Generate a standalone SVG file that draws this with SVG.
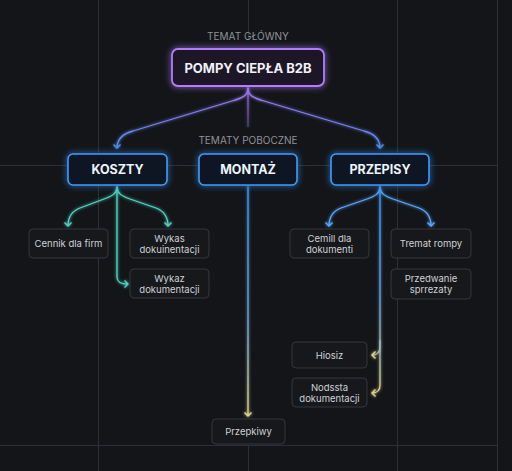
<svg xmlns="http://www.w3.org/2000/svg" width="512" height="471" viewBox="0 0 512 471">
<defs>
<style>
.grid{stroke:#2c2f34;stroke-width:1;fill:none}
.lbl{font-family:Inter,"Liberation Sans",sans-serif;font-size:10px;fill:#8f9297;text-anchor:middle}
.t1{font-family:Inter,"Liberation Sans",sans-serif;font-size:13px;font-weight:700;fill:#f2f0f8;text-anchor:middle}
.t2{font-family:Inter,"Liberation Sans",sans-serif;font-size:12.5px;font-weight:700;fill:#eef4fb;text-anchor:middle}
.t3{font-family:Inter,"Liberation Sans",sans-serif;font-size:9.5px;fill:#cfd1d4;text-anchor:middle}
.leaf{fill:#16181b;stroke:#34373c;stroke-width:1}
.mid{fill:#0f1824;stroke:#3d9bff;stroke-width:1.6}
.c{fill:none;stroke-width:1.3}
</style>
<filter id="glow" x="-30%" y="-50%" width="160%" height="200%">
<feGaussianBlur in="SourceGraphic" stdDeviation="3" result="b"/>
<feMerge><feMergeNode in="b"/><feMergeNode in="SourceGraphic"/></feMerge>
</filter>
<filter id="lglow" x="-50%" y="-10%" width="200%" height="120%">
<feGaussianBlur in="SourceGraphic" stdDeviation="1.5" result="b"/>
<feMerge><feMergeNode in="b"/><feMergeNode in="SourceGraphic"/></feMerge>
</filter>
<linearGradient id="gpb" x1="0" y1="86" x2="0" y2="150" gradientUnits="userSpaceOnUse">
<stop offset="0" stop-color="#a874f0"/><stop offset="1" stop-color="#4f8df5"/>
</linearGradient>
<linearGradient id="gpm" x1="0" y1="86" x2="0" y2="128" gradientUnits="userSpaceOnUse">
<stop offset="0" stop-color="#a874f0"/><stop offset="1" stop-color="#7a64c0" stop-opacity="0.5"/>
</linearGradient>
<linearGradient id="gmon" x1="0" y1="186" x2="0" y2="418" gradientUnits="userSpaceOnUse">
<stop offset="0" stop-color="#3d9bff"/><stop offset="0.55" stop-color="#6aa6e0"/><stop offset="1" stop-color="#e8dc8a"/>
</linearGradient>
<linearGradient id="gpr" x1="0" y1="186" x2="0" y2="395" gradientUnits="userSpaceOnUse">
<stop offset="0" stop-color="#3d9bff"/><stop offset="0.55" stop-color="#6aa6e0"/><stop offset="1" stop-color="#e0d28a"/>
</linearGradient>
<marker id="aB" markerWidth="10" markerHeight="10" refX="0" refY="0" viewBox="-5 -5 10 10" orient="auto" markerUnits="userSpaceOnUse">
<path d="M-3.5,-3.5 L0,0 L-3.5,3.5" fill="none" stroke="#4f8df5" stroke-width="1.3"/>
</marker>
<marker id="aT" markerWidth="10" markerHeight="10" refX="0" refY="0" viewBox="-5 -5 10 10" orient="auto" markerUnits="userSpaceOnUse">
<path d="M-3.5,-3.5 L0,0 L-3.5,3.5" fill="none" stroke="#4fd6c4" stroke-width="1.3"/>
</marker>
<marker id="aL" markerWidth="10" markerHeight="10" refX="0" refY="0" viewBox="-5 -5 10 10" orient="auto" markerUnits="userSpaceOnUse">
<path d="M-3.5,-3.5 L0,0 L-3.5,3.5" fill="none" stroke="#5aa8ff" stroke-width="1.3"/>
</marker>
<marker id="aY" markerWidth="10" markerHeight="10" refX="0" refY="0" viewBox="-5 -5 10 10" orient="auto" markerUnits="userSpaceOnUse">
<path d="M-3.5,-3.5 L0,0 L-3.5,3.5" fill="none" stroke="#e6da8c" stroke-width="1.3"/>
</marker>
</defs>
<rect width="512" height="471" fill="#131518"/>
<g id="grid">
<line class="grid" x1="98.5" y1="0" x2="98.5" y2="471"/>
<line class="grid" x1="248.5" y1="0" x2="248.5" y2="40"/>
<line class="grid" x1="248.5" y1="445" x2="248.5" y2="471"/>
<line class="grid" x1="397.5" y1="0" x2="397.5" y2="471"/>
<line class="grid" x1="497.5" y1="0" x2="497.5" y2="471" stroke="#3a3d42"/>
<line class="grid" x1="0" y1="165.5" x2="497" y2="165.5"/>
<line class="grid" x1="0" y1="445.5" x2="497" y2="445.5"/>
</g>
<text class="lbl" x="248" y="40">TEMAT GŁÓWNY</text>
<text class="lbl" x="248" y="144">TEMATY POBOCZNE</text>
<g id="connectors" filter="url(#lglow)">
<path class="c" stroke="url(#gpb)" d="M248,88 C248,96 242,98 232,101 L133,131 C122,134 117,139 117,148" marker-end="url(#aB)"/>
<path class="c" stroke="url(#gpb)" d="M248,88 C248,96 254,98 264,101 L364,131 C375,134 380,139 380,148" marker-end="url(#aB)"/>
<path class="c" stroke="url(#gpm)" d="M248,86 L248,127"/>
<path class="c" stroke="#4fd6c4" d="M117,186 C117,194 112,196 104,199 L80,208 C72,211 68,216 68,226" marker-end="url(#aT)"/>
<path class="c" stroke="#4fd6c4" d="M117,186 C117,194 122,196 130,199 L156,208 C164,211 168,216 168,226" marker-end="url(#aT)"/>
<path class="c" stroke="#4fd6c4" d="M117,186 L117,277 C117,282 120,284 128,284" marker-end="url(#aT)"/>
<path class="c" stroke="#5aa8ff" d="M380,186 C380,194 375,196 367,199 L341,208 C333,211 329,216 329,226" marker-end="url(#aL)"/>
<path class="c" stroke="#5aa8ff" d="M380,186 C380,194 385,196 393,199 L419,208 C427,211 431,216 431,226" marker-end="url(#aL)"/>
<path class="c" stroke="url(#gpr)" d="M380,186 L380,347 C380,352 378,355 372,355" marker-end="url(#aY)"/>
<path class="c" stroke="url(#gpr)" d="M380,340 L380,385 C380,390 378,393 372,393" marker-end="url(#aY)"/>
<path class="c" stroke="url(#gmon)" d="M248,186 L248,416" marker-end="url(#aY)"/>
</g>
<g id="root">
<rect x="172" y="49" width="152" height="37" rx="6" fill="#1b1426" stroke="#b27cff" stroke-width="1.8" filter="url(#glow)"/>
<text class="t1" x="248" y="72.5">POMPY CIEPŁA B2B</text>
</g>
<g id="koszty">
<rect class="mid" x="68" y="154" width="99" height="31" rx="5" filter="url(#glow)"/>
<text class="t2" x="117.5" y="174">KOSZTY</text>
</g>
<g id="montaz">
<rect class="mid" x="199" y="154" width="98" height="31" rx="5" filter="url(#glow)"/>
<text class="t2" x="248" y="174">MONTAŻ</text>
</g>
<g id="przepisy">
<rect class="mid" x="331" y="154" width="98" height="31" rx="5" filter="url(#glow)"/>
<text class="t2" x="380" y="174">PRZEPISY</text>
</g>
<g id="cennik">
<rect class="leaf" x="29" y="229" width="79" height="29" rx="4"/>
<text class="t3" x="68.5" y="247">Cennik dla firm</text>
</g>
<g id="wykas">
<rect class="leaf" x="130" y="229" width="79" height="29" rx="4"/>
<text class="t3" x="169.5" y="241.5">Wykas</text>
<text class="t3" x="169.5" y="252.5">dokuinentacji</text>
</g>
<g id="wykaz">
<rect class="leaf" x="130" y="269" width="79" height="29" rx="4"/>
<text class="t3" x="169.5" y="281.5">Wykaz</text>
<text class="t3" x="169.5" y="292.5">dokumentacji</text>
</g>
<g id="cemill">
<rect class="leaf" x="290" y="229" width="79" height="29" rx="4"/>
<text class="t3" x="329.5" y="241.5">Cemill dla</text>
<text class="t3" x="329.5" y="252.5">dokumenti</text>
</g>
<g id="tremat">
<rect class="leaf" x="391" y="229" width="80" height="29" rx="4"/>
<text class="t3" x="431" y="247">Tremat rompy</text>
</g>
<g id="przedwanie">
<rect class="leaf" x="391" y="269" width="80" height="30" rx="4"/>
<text class="t3" x="431" y="281.5">Przedwanie</text>
<text class="t3" x="431" y="292.5">sprrezaty</text>
</g>
<g id="hiosiz">
<rect class="leaf" x="292" y="342" width="75" height="26" rx="4"/>
<text class="t3" x="329.5" y="358.5">Hiosiz</text>
</g>
<g id="nodssta">
<rect class="leaf" x="292" y="378" width="75" height="29" rx="4"/>
<text class="t3" x="329.5" y="390.5">Nodssta</text>
<text class="t3" x="329.5" y="401.5">dokumentacji</text>
</g>
<g id="przepkiwy">
<rect class="leaf" x="212" y="419" width="73" height="25" rx="4"/>
<text class="t3" x="248.5" y="435">Przepkiwy</text>
</g>
</svg>
